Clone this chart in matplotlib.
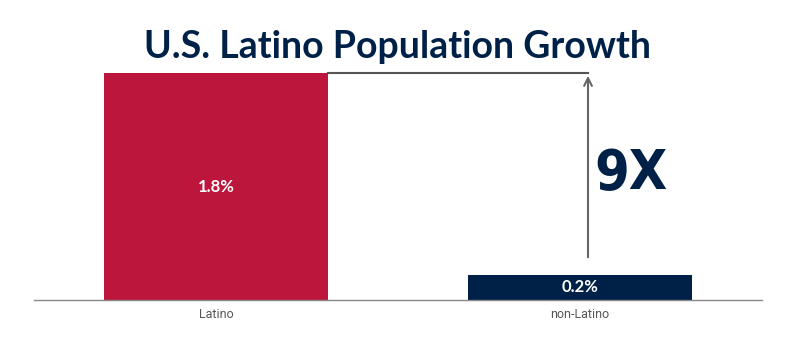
import matplotlib.pyplot as plt

categories = ["Latino", "non-Latino"]
growth = [1.8, 0.2]
bar_labels = ["1.8%", "0.2%"]
colors = ["#BD163D", "#002147"]
multiple_label = "9X"

fig = plt.figure(figsize=(7.94, 3.52), dpi=100)
ax = fig.add_axes([34 / 794, 52 / 352, 728 / 794, 227 / 352])

x = list(range(len(categories)))
bars = ax.bar(x, growth, width=0.615, color=colors, zorder=2)

for b, lab in zip(bars, bar_labels):
    ax.text(b.get_x() + b.get_width() / 2, b.get_height() / 2, lab,
            ha="center", va="center", color="white", fontsize=12,
            fontweight="bold", family=["Lato", "DejaVu Sans"])

ax.set_xlim(-0.5, 1.5)
ax.set_ylim(0, 1.8)

# connector line from top of big bar and arrow up from small bar
arrow_x = 1.022
ax.plot([bars[0].get_x() + bars[0].get_width(), arrow_x], [growth[0], growth[0]],
        color="#555555", lw=1.5, clip_on=False, zorder=1)
ax.annotate("", xy=(arrow_x, growth[0]), xytext=(arrow_x, 0.317),
            arrowprops=dict(arrowstyle="->", color="#666666", lw=1.5,
                            mutation_scale=14),
            annotation_clip=False)
ax.text(1.04, 1.0, multiple_label, ha="left", va="center", color="#002147",
        fontsize=40, fontweight="bold", fontstretch="condensed",
        family=["DejaVu Sans"])

ax.set_xticks(x)
ax.set_xticklabels(categories, color="#555555", fontsize=9,
                   family=["Roboto", "DejaVu Sans"])
ax.tick_params(axis="x", length=0, pad=6)
ax.set_yticks([])
for side in ["top", "right", "left"]:
    ax.spines[side].set_visible(False)
ax.spines["bottom"].set_color("#888888")
ax.spines["bottom"].set_linewidth(1)

fig.text(0.5, 1 - 47 / 352, "U.S. Latino Population Growth", ha="center",
         va="center", color="#002147", fontsize=27, fontweight="bold",
         family=["Lato", "DejaVu Sans"])

fig.savefig("out.png", dpi=100)
